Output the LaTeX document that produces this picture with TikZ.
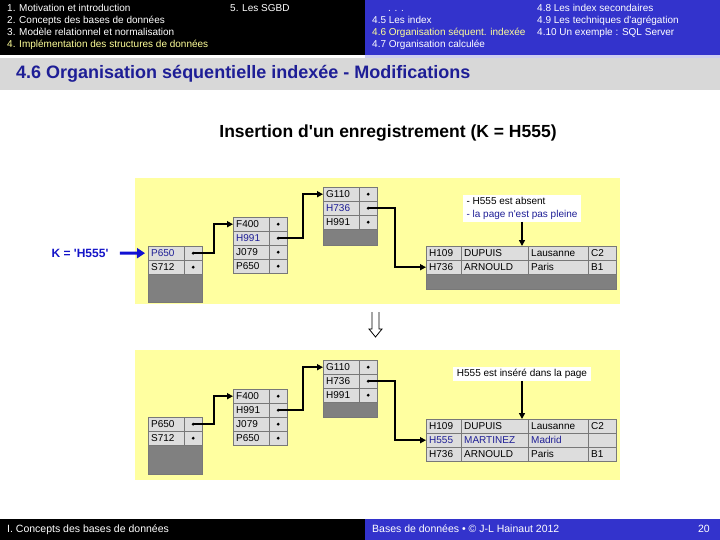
\documentclass[tikz,border=0pt]{standalone}
\usepackage{fontspec}
\setmainfont{Liberation Sans}
\usetikzlibrary{arrows.meta}
\definecolor{hblue}{RGB}{51,51,204}
\definecolor{hyel}{RGB}{255,255,153}
\definecolor{ylw}{RGB}{255,255,160}
\definecolor{cgray}{RGB}{221,221,221}
\definecolor{dgray}{RGB}{128,128,128}
\definecolor{bgray}{RGB}{120,120,120}
\definecolor{dblue}{RGB}{30,30,150}
\definecolor{kblue}{RGB}{20,20,200}
\definecolor{tband}{RGB}{216,216,216}
\definecolor{lav}{RGB}{205,205,240}
\newcommand{\apo}{\textquotesingle}
\tikzset{
  >={Triangle[length=6pt,width=6pt]},
  hd/.style={anchor=west,inner sep=0pt,text height=7.5pt,text depth=2pt,text=white,font=\fontsize{10}{12}\selectfont},
  kc/.style={draw=bgray,fill=cgray,anchor=north west,minimum height=14pt,text width=30pt,inner xsep=3pt,inner ysep=0pt,align=left,font=\fontsize{10}{11}\selectfont},
  pc/.style={draw=bgray,fill=cgray,anchor=north west,minimum width=18pt,minimum height=14pt,inner sep=0pt},
  dc/.style={kc,text width=#1},
  gb/.style={draw=bgray,fill=dgray,anchor=north west,inner sep=0pt},
  d/.style={circle,fill,inner sep=1.1pt},
  nt/.style={fill=white,inner xsep=4pt,inner ysep=2pt,align=left,font=\fontsize{10}{13}\selectfont},
  pa/.style={->,line width=1.6pt},
}
\begin{document}
\begin{tikzpicture}[x=1pt,y=-1pt]
\useasboundingbox (0,0) rectangle (720,540);
\fill[black] (0,0) rectangle (365,55); \fill[hblue] (365,0) rectangle (720,55);
\fill[lav] (365,55) rectangle (720,58); \fill[tband] (0,58) rectangle (720,90);
\fill[black] (0,519) rectangle (365,540); \fill[hblue] (365,519) rectangle (720,540);
% header
\node[hd] (h1) at (7,9){1. Motivation et introduction}; \node[hd] (h2) at (7,21){2. Concepts des bases de données};
\node[hd] (h3) at (7,33){3. Modèle relationnel et normalisation}; \node[hd,text=hyel] (h4) at (7,45){4. Implémentation des structures de données};
\node[hd] (h5) at (230,9){5. Les SGBD};
\node[hd] (s0) at (388,9){. . .}; \node[hd] (s5) at (372,21){4.5 Les index};
\node[hd,text=hyel] (s6) at (372,33){4.6 Organisation séquent. indexée}; \node[hd] (s7) at (372,45){4.7 Organisation calculée};
\node[hd] (s8) at (537,9){4.8 Les index secondaires}; \node[hd] (s9) at (537,21){4.9 Les techniques d\apo agrégation};
\node[hd] (s10) at (537,33){4.10 Un exemple : SQL Server};
\node[anchor=west,inner sep=0pt,text=dblue,font=\bfseries\fontsize{18}{20}\selectfont] (ttl) at (16,74){4.6 Organisation séquentielle indexée - Modifications};
\node[font=\bfseries\fontsize{17.5}{19}\selectfont] (sub) at (388,133){Insertion d\apo un enregistrement (K = H555)};
% footer
\node[hd,font=\fontsize{10.5}{12}\selectfont] (f1) at (7,530){I. Concepts des bases de données};
\node[hd,font=\fontsize{10.5}{12}\selectfont] (f2) at (372,530){Bases de données • © J-L Hainaut 2012};
\node[hd,anchor=east,font=\fontsize{10.5}{12}\selectfont] (f3) at (710,530){20};
% before
\fill[ylw] (135,178) rectangle (620,304);
\node[kc,text=dblue] (ua1) at (148,246){P650}; \node[pc] (uap1) at (184,246){}; \node[d] (uad1) at (uap1.center){};
\node[kc] (ua2) at (148,260){S712}; \node[pc] (uap2) at (184,260){}; \node[d] (uad2) at (uap2.center){};
\node[gb,minimum width=54pt,minimum height=28pt] (uag) at (148,274){};
\node[kc] (ub1) at (233,217){F400}; \node[pc] (ubp1) at (269,217){}; \node[d] (ubd1) at (ubp1.center){};
\node[kc,text=dblue] (ub2) at (233,231){H991}; \node[pc] (ubp2) at (269,231){}; \node[d] (ubd2) at (ubp2.center){};
\node[kc] (ub3) at (233,245){J079}; \node[pc] (ubp3) at (269,245){}; \node[d] (ubd3) at (ubp3.center){};
\node[kc] (ub4) at (233,259){P650}; \node[pc] (ubp4) at (269,259){}; \node[d] (ubd4) at (ubp4.center){};
\node[kc] (uc1) at (323,187){G110}; \node[pc] (ucp1) at (359,187){}; \node[d] (ucd1) at (ucp1.center){};
\node[kc,text=dblue] (uc2) at (323,201){H736}; \node[pc] (ucp2) at (359,201){}; \node[d] (ucd2) at (ucp2.center){};
\node[kc] (uc3) at (323,215){H991}; \node[pc] (ucp3) at (359,215){}; \node[d] (ucd3) at (ucp3.center){};
\node[gb,minimum width=54pt,minimum height=16pt] (ucg) at (323,229){};
\node[dc=29pt] (ud1) at (426,246){H109}; \node[dc=61pt] (ud2) at (461,246){DUPUIS}; \node[dc=54pt] (ud3) at (528,246){Lausanne}; \node[dc=22pt] (ud4) at (588,246){C2};
\node[dc=29pt] (ud5) at (426,260){H736}; \node[dc=61pt] (ud6) at (461,260){ARNOULD}; \node[dc=54pt] (ud7) at (528,260){Paris}; \node[dc=22pt] (ud8) at (588,260){B1};
\node[gb,minimum width=190pt,minimum height=15pt] (udg) at (426,274){};
\node[nt,anchor=south] (un) at (522,222){- H555 est absent\\\textcolor{dblue}{- la page n\apo est pas pleine}};
\draw[pa] (uad1.center) -- ++(21,0) |- (ub1.west); \draw[pa] (ubd2.center) -- ++(25,0) |- (uc1.west);
\draw[pa] (ucd2.center) -- ++(27,0) |- (ud5.west); \draw[pa] (un) -- (un.south |- ud2.north);
\node[text=kblue,font=\bfseries\fontsize{12}{14}\selectfont] (key) at (80,253){K = \apo H555\apo};
\draw[kblue!80!blue,line width=3pt,-{Triangle[length=8pt,width=10pt]},shorten <=8pt,shorten >=3pt] (key) -- (ua1);
% down arrow
\draw[line width=0.8pt] (372,312) -- (372,329) -- (369,329) -- (375.5,337) -- (382,329) -- (379,329) -- (379,312);
% after
\fill[ylw] (135,350) rectangle (620,480);
\node[kc] (la1) at (148,417){P650}; \node[pc] (lap1) at (184,417){}; \node[d] (lad1) at (lap1.center){};
\node[kc] (la2) at (148,431){S712}; \node[pc] (lap2) at (184,431){}; \node[d] (lad2) at (lap2.center){};
\node[gb,minimum width=54pt,minimum height=29pt] (lag) at (148,445){};
\node[kc] (lb1) at (233,389){F400}; \node[pc] (lbp1) at (269,389){}; \node[d] (lbd1) at (lbp1.center){};
\node[kc] (lb2) at (233,403){H991}; \node[pc] (lbp2) at (269,403){}; \node[d] (lbd2) at (lbp2.center){};
\node[kc] (lb3) at (233,417){J079}; \node[pc] (lbp3) at (269,417){}; \node[d] (lbd3) at (lbp3.center){};
\node[kc] (lb4) at (233,431){P650}; \node[pc] (lbp4) at (269,431){}; \node[d] (lbd4) at (lbp4.center){};
\node[kc] (lc1) at (323,360){G110}; \node[pc] (lcp1) at (359,360){}; \node[d] (lcd1) at (lcp1.center){};
\node[kc] (lc2) at (323,374){H736}; \node[pc] (lcp2) at (359,374){}; \node[d] (lcd2) at (lcp2.center){};
\node[kc] (lc3) at (323,388){H991}; \node[pc] (lcp3) at (359,388){}; \node[d] (lcd3) at (lcp3.center){};
\node[gb,minimum width=54pt,minimum height=15pt] (lcg) at (323,402){};
\node[dc=29pt] (ld1) at (426,419){H109}; \node[dc=61pt] (ld2) at (461,419){DUPUIS}; \node[dc=54pt] (ld3) at (528,419){Lausanne}; \node[dc=22pt] (ld4) at (588,419){C2};
\node[dc=29pt,text=dblue] (ld5) at (426,433){H555}; \node[dc=61pt,text=dblue] (ld6) at (461,433){MARTINEZ}; \node[dc=54pt,text=dblue] (ld7) at (528,433){Madrid}; \node[dc=22pt] (ld8) at (588,433){};
\node[dc=29pt] (ld9) at (426,447){H736}; \node[dc=61pt] (ld10) at (461,447){ARNOULD}; \node[dc=54pt] (ld11) at (528,447){Paris}; \node[dc=22pt] (ld12) at (588,447){B1};
\node[nt,anchor=south] (ln) at (522,381){H555 est inséré dans la page};
\draw[pa] (lad1.center) -- ++(21,0) |- (lb1.west); \draw[pa] (lbd2.center) -- ++(25,0) |- (lc1.west);
\draw[pa] (lcd2.center) -- ++(27,0) |- (ld5.west); \draw[pa] (ln) -- (ln.south |- ld2.north);
\end{tikzpicture}
\end{document}
